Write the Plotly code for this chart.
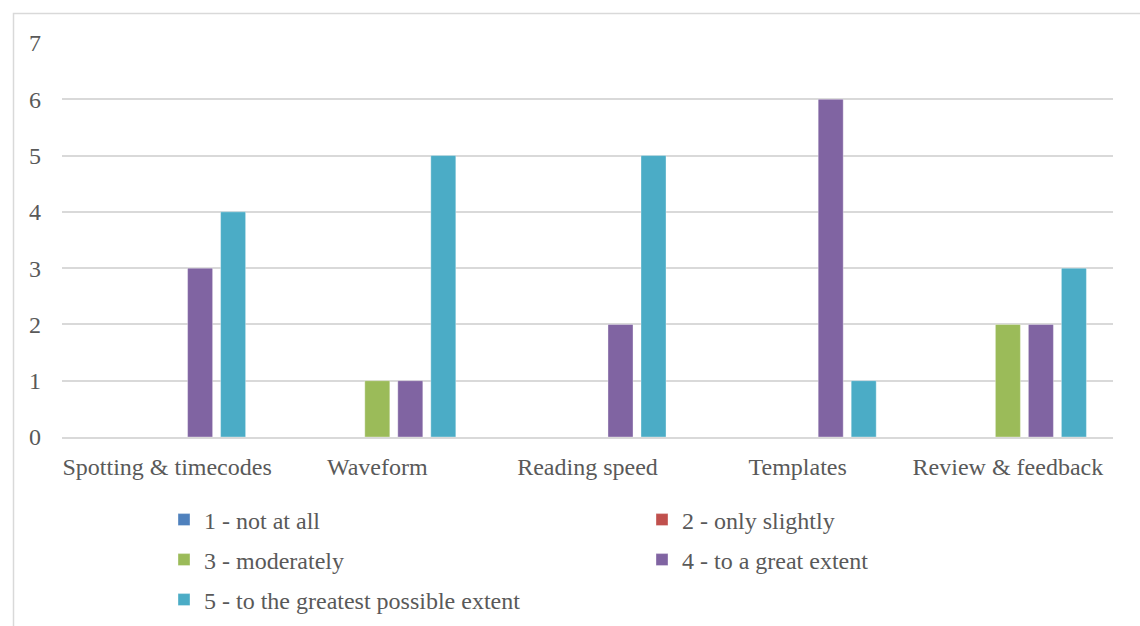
import plotly.graph_objects as go

categories = ["Spotting & timecodes", "Waveform", "Reading speed", "Templates", "Review & feedback"]
series_names = [
    "1 - not at all",
    "2 - only slightly",
    "3 - moderately",
    "4 - to a great extent",
    "5 - to the greatest possible extent",
]
not_at_all = [0, 0, 0, 0, 0]
only_slightly = [0, 0, 0, 0, 0]
moderately = [0, 1, 0, 0, 2]
great_extent = [3, 1, 2, 6, 2]
greatest_extent = [4, 5, 5, 1, 3]
y_ticks = [0, 1, 2, 3, 4, 5, 6, 7]

series_values = [not_at_all, only_slightly, moderately, great_extent, greatest_extent]
colors = ["#4F81BD", "#C0504D", "#9BBB59", "#8064A2", "#4BACC6"]

FONT = "Liberation Serif"
TEXT = "#595959"
FS = 24

W, H = 1140, 626
L, R, T, B = 62, 27, 43, 189
pw, ph = W - L - R, H - T - B


def px_to_paper_x(px):
    return (px - L) / pw


def px_to_paper_y(py):
    return (H - B - py) / ph


# legend entries laid out in two columns, three rows
legend_cols = [164, 642]
legend_rows = [520, 560, 600]
legend_pos = [(legend_cols[i % 2], legend_rows[i // 2]) for i in range(len(series_names))]
legend_ids = ["legend"] + [f"legend{i}" for i in range(2, len(series_names) + 1)]

fig = go.Figure()
for name, vals, col, lg in zip(series_names, series_values, colors, legend_ids):
    fig.add_trace(go.Bar(
        x=categories, y=vals, name=name, legend=lg, showlegend=True,
        marker=dict(color=col, line=dict(color="rgba(255,255,255,0.35)", width=1)),
    ))

legend_layout = {}
for lg, (lx, ly) in zip(legend_ids, legend_pos):
    legend_layout[lg] = dict(
        x=px_to_paper_x(lx), y=px_to_paper_y(ly),
        xanchor="left", yanchor="middle", orientation="h",
        font=dict(family=FONT, size=FS, color=TEXT),
        bgcolor="rgba(0,0,0,0)", itemclick=False,
    )

fig.update_layout(
    width=W, height=H,
    margin=dict(l=L, r=R, t=T, b=B, autoexpand=False),
    showlegend=True,
    paper_bgcolor="white", plot_bgcolor="white",
    barmode="group", bargap=0.215, bargroupgap=0.242,
    font=dict(family=FONT, size=FS, color=TEXT),
    xaxis=dict(
        showgrid=False, showline=True, linecolor="#D9D9D9", linewidth=2,
        ticks="", tickfont=dict(family=FONT, size=FS, color=TEXT),
        ticklabelstandoff=7,
    ),
    yaxis=dict(
        range=[0, 7], tickvals=y_ticks, showgrid=True, gridcolor="#D9D9D9",
        gridwidth=2, zeroline=False, showline=False, ticks="",
        tickfont=dict(family=FONT, size=FS, color=TEXT),
        ticklabelstandoff=20,
    ),
    shapes=[dict(
        type="rect", xref="paper", yref="paper",
        x0=px_to_paper_x(13.5), x1=px_to_paper_x(1200),
        y0=px_to_paper_y(700), y1=px_to_paper_y(13.5),
        line=dict(color="#D9D9D9", width=1.5), fillcolor="rgba(0,0,0,0)",
        layer="below",
    )],
    **legend_layout,
)

fig.write_html("out.html")
